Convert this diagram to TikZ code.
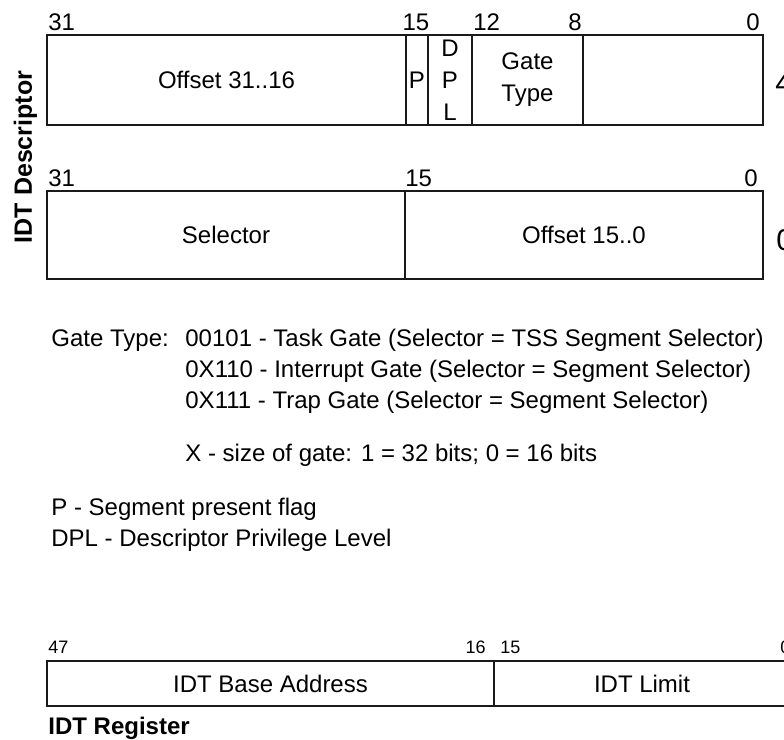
\documentclass[tikz,border=0pt]{standalone}
\usepackage{fontspec}
\setmainfont{Liberation Sans}
\usetikzlibrary{positioning}
\definecolor{RegLine}{HTML}{1A1A1A}
\definecolor{RegText}{HTML}{000000}

\begin{document}
\begin{tikzpicture}[x=0.5pt,y=-0.5pt,
        fld/.style={draw=RegLine,line width=1pt,inner sep=0pt,outer sep=0pt,
                    align=center,font=\fontsize{12}{16}\selectfont,text=RegText},
        bitno/.style={font=\fontsize{12}{14}\selectfont,inner sep=0pt,text=RegText},
        bitsm/.style={font=\fontsize{9}{11}\selectfont,inner sep=0pt,text=RegText,anchor=base west},
        cut/.style={font=\fontsize{15}{18}\selectfont,inner sep=0pt,text=RegText,anchor=base west},
        note/.style={font=\fontsize{12}{14}\selectfont,inner sep=0pt,text=RegText,anchor=base west},
        head/.style={font=\fontsize{12.5}{15}\selectfont\bfseries,inner sep=0pt,text=RegText}]
      \useasboundingbox (0,0) rectangle (784,740);
      \clip (0,0) rectangle (784,740);
      \node[head,rotate=90,anchor=base] (desc) at (32,157) {IDT Descriptor};
      \node[fld,anchor=north west,minimum width=179.5pt,minimum height=45pt] (offhi) at (47,35) {Offset 31..16};
      \node[fld,right=0pt of offhi,minimum width=11pt,minimum height=45pt] (pbit) {P};
      \node[fld,right=0pt of pbit,minimum width=22pt,minimum height=45pt] (dpl) {D\\P\\L};
      \node[fld,right=0pt of dpl,minimum width=55.5pt,minimum height=45pt] (gtype) {Gate\\Type};
      \node[fld,right=0pt of gtype,minimum width=90pt,minimum height=45pt] (low) {};
      \node[bitno,anchor=base west] (hi31) at (48,30) {31};
      \node[bitno,anchor=base] (hi15) at (416,30) {15};
      \node[bitno,anchor=base west] (hi12) at (473,30) {12};
      \node[bitno,anchor=base] (hi8) at (575,30) {8};
      \node[bitno,anchor=base] (hi0) at (753,30) {0};
      \node[cut] (row4) at (775,93) {4};
      \node[fld,anchor=north west,minimum width=179pt,minimum height=44pt] (sel) at (47,191) {Selector};
      \node[fld,right=0pt of sel,minimum width=179pt,minimum height=44pt] (offlo) {Offset 15..0};
      \node[bitno,anchor=base west] (lo31) at (48,186) {31};
      \node[bitno,anchor=base west] (lo15) at (405,186) {15};
      \node[bitno,anchor=base] (lo0) at (751,186) {0};
      \node[cut] (row0) at (776,250) {0};
      \node[note] (gtlbl) at (51,346) {Gate Type:};
      \node[note] (task) at (185,346) {00101 - Task Gate (Selector = TSS Segment Selector)};
      \node[note] (intr) at (185,377) {0X110 - Interrupt Gate (Selector = Segment Selector)};
      \node[note] (trap) at (185,408) {0X111 - Trap Gate (Selector = Segment Selector)};
      \node[note] (xsize) at (185,461) {X - size of gate: 1 = 32 bits; 0 = 16 bits};
      \node[note] (pnote) at (51,515) {P - Segment present flag};
      \node[note] (dplnote) at (51,546) {DPL - Descriptor Privilege Level};
      \node[fld,anchor=north west,minimum width=223.5pt,minimum height=22.5pt] (base) at (47,661) {IDT Base Address};
      \node[fld,right=0pt of base,minimum width=148pt,minimum height=22.5pt] (limit) {IDT Limit};
      \node[bitsm] (r47) at (48,653) {47};
      \node[bitsm,anchor=base east] (r16) at (486,653) {16};
      \node[bitsm] (r15) at (500,653) {15};
      \node[bitsm] (r0) at (780,653) {0};
      \node[head,anchor=base west,font=\fontsize{12}{14}\selectfont\bfseries] (reg) at (48,734) {IDT Register};
    \end{tikzpicture}
\end{document}
